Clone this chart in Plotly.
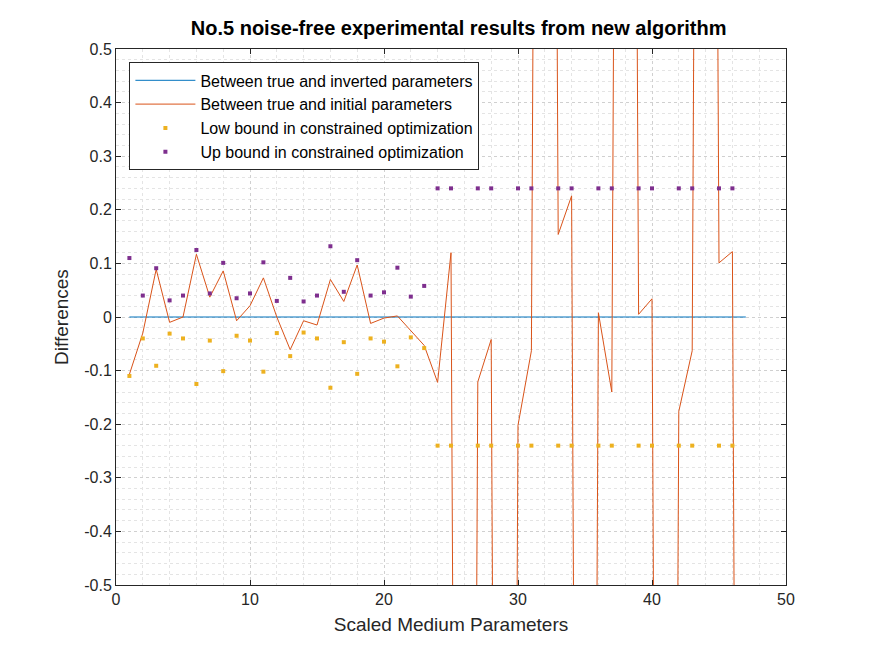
import plotly.graph_objects as go

x = list(range(1, 48))
inverted = [0.0] * 47
initial = [-0.107, -0.03, 0.089, -0.01, 0.0, 0.117, 0.037, 0.086, -0.007, 0.021,
           0.073, 0.0, -0.061, -0.007, -0.015, 0.07, 0.029, 0.097, -0.012, -0.002,
           0.002, -0.025, -0.053, -0.122, 0.12, -5, -0.121, -0.042, -5, -0.202,
           -0.063, 5, 0.154, 0.226, -5, 0.008, -0.14, 5, 0.005, 0.034,
           -5, -0.176, -0.063, 5, 0.101, 0.122, -5]
upper = [0.110, 0.040, 0.091, 0.031, 0.040, 0.125, 0.044, 0.101, 0.035, 0.044,
         0.102, 0.030, 0.073, 0.029, 0.040, 0.132, 0.047, 0.106, 0.040, 0.046,
         0.092, 0.038, 0.058,
         0.24, 0.24, None, 0.24, 0.24, None, 0.24, 0.24, None, 0.24, 0.24, None,
         0.24, 0.24, None, 0.24, 0.24, None, 0.24, 0.24, None, 0.24, 0.24]
lower = [None if v is None else -v for v in upper]
xb = list(range(1, 47))
ytick_vals = [-0.5, -0.4, -0.3, -0.2, -0.1, 0, 0.1, 0.2, 0.3, 0.4, 0.5]
ytick_text = ["-0.5", "-0.4", "-0.3", "-0.2", "-0.1", "0", "0.1", "0.2", "0.3", "0.4", "0.5"]

fig = go.Figure()
fig.add_trace(go.Scatter(x=x, y=inverted, mode="lines", line=dict(color="#0072BD", width=1),
                         name="Between true and inverted parameters"))
fig.add_trace(go.Scatter(x=x, y=initial, mode="lines", line=dict(color="#D95319", width=1),
                         name="Between true and initial parameters"))
fig.add_trace(go.Scatter(x=xb, y=lower, mode="markers", marker=dict(color="#EDB120", size=4, symbol="square"),
                         name="Low bound in constrained optimization"))
fig.add_trace(go.Scatter(x=xb, y=upper, mode="markers", marker=dict(color="#7E2F8E", size=4, symbol="square"),
                         name="Up bound in constrained optimization"))

axis_common = dict(showline=True, linecolor="#262626", linewidth=1, mirror="ticks", ticks="inside",
                   ticklen=5, tickcolor="#262626", zeroline=False,
                   showgrid=True, gridcolor="#d0d0d0", griddash="dot", gridwidth=1,
                   tickfont=dict(family="Arial, Liberation Sans", size=16, color="#262626"))
fig.update_layout(
    width=875, height=656, plot_bgcolor="white", paper_bgcolor="white",
    margin=dict(l=108, r=97, t=41, b=79),
    title=dict(text="<b>No.5 noise-free experimental results from new algorithm</b>", x=0.515, xanchor="center",
               y=0.98, yanchor="top", font=dict(family="Arial, Liberation Sans", size=20, color="black")),
    xaxis=dict(range=[0, 50], dtick=10, title=dict(text="Scaled Medium Parameters", standoff=10,
               font=dict(family="Arial, Liberation Sans", size=19, color="#262626")),
               minor=dict(dtick=2, showgrid=True, gridcolor="#e4e4e4", griddash="dot"), **axis_common),
    yaxis=dict(range=[-0.5, 0.5], tickvals=ytick_vals, ticktext=ytick_text,
               title=dict(text="Differences", standoff=10,
               font=dict(family="Arial, Liberation Sans", size=19, color="#262626")),
               minor=dict(dtick=0.02, showgrid=True, gridcolor="#e4e4e4", griddash="dot"), **axis_common),
    legend=dict(x=0.02, y=0.975, xanchor="left", yanchor="top", bgcolor="white", bordercolor="#262626",
                borderwidth=1, font=dict(family="Arial, Liberation Sans", size=16, color="black"),
                tracegroupgap=0, itemwidth=60),
    showlegend=True,
)
fig.write_html("out.html")
